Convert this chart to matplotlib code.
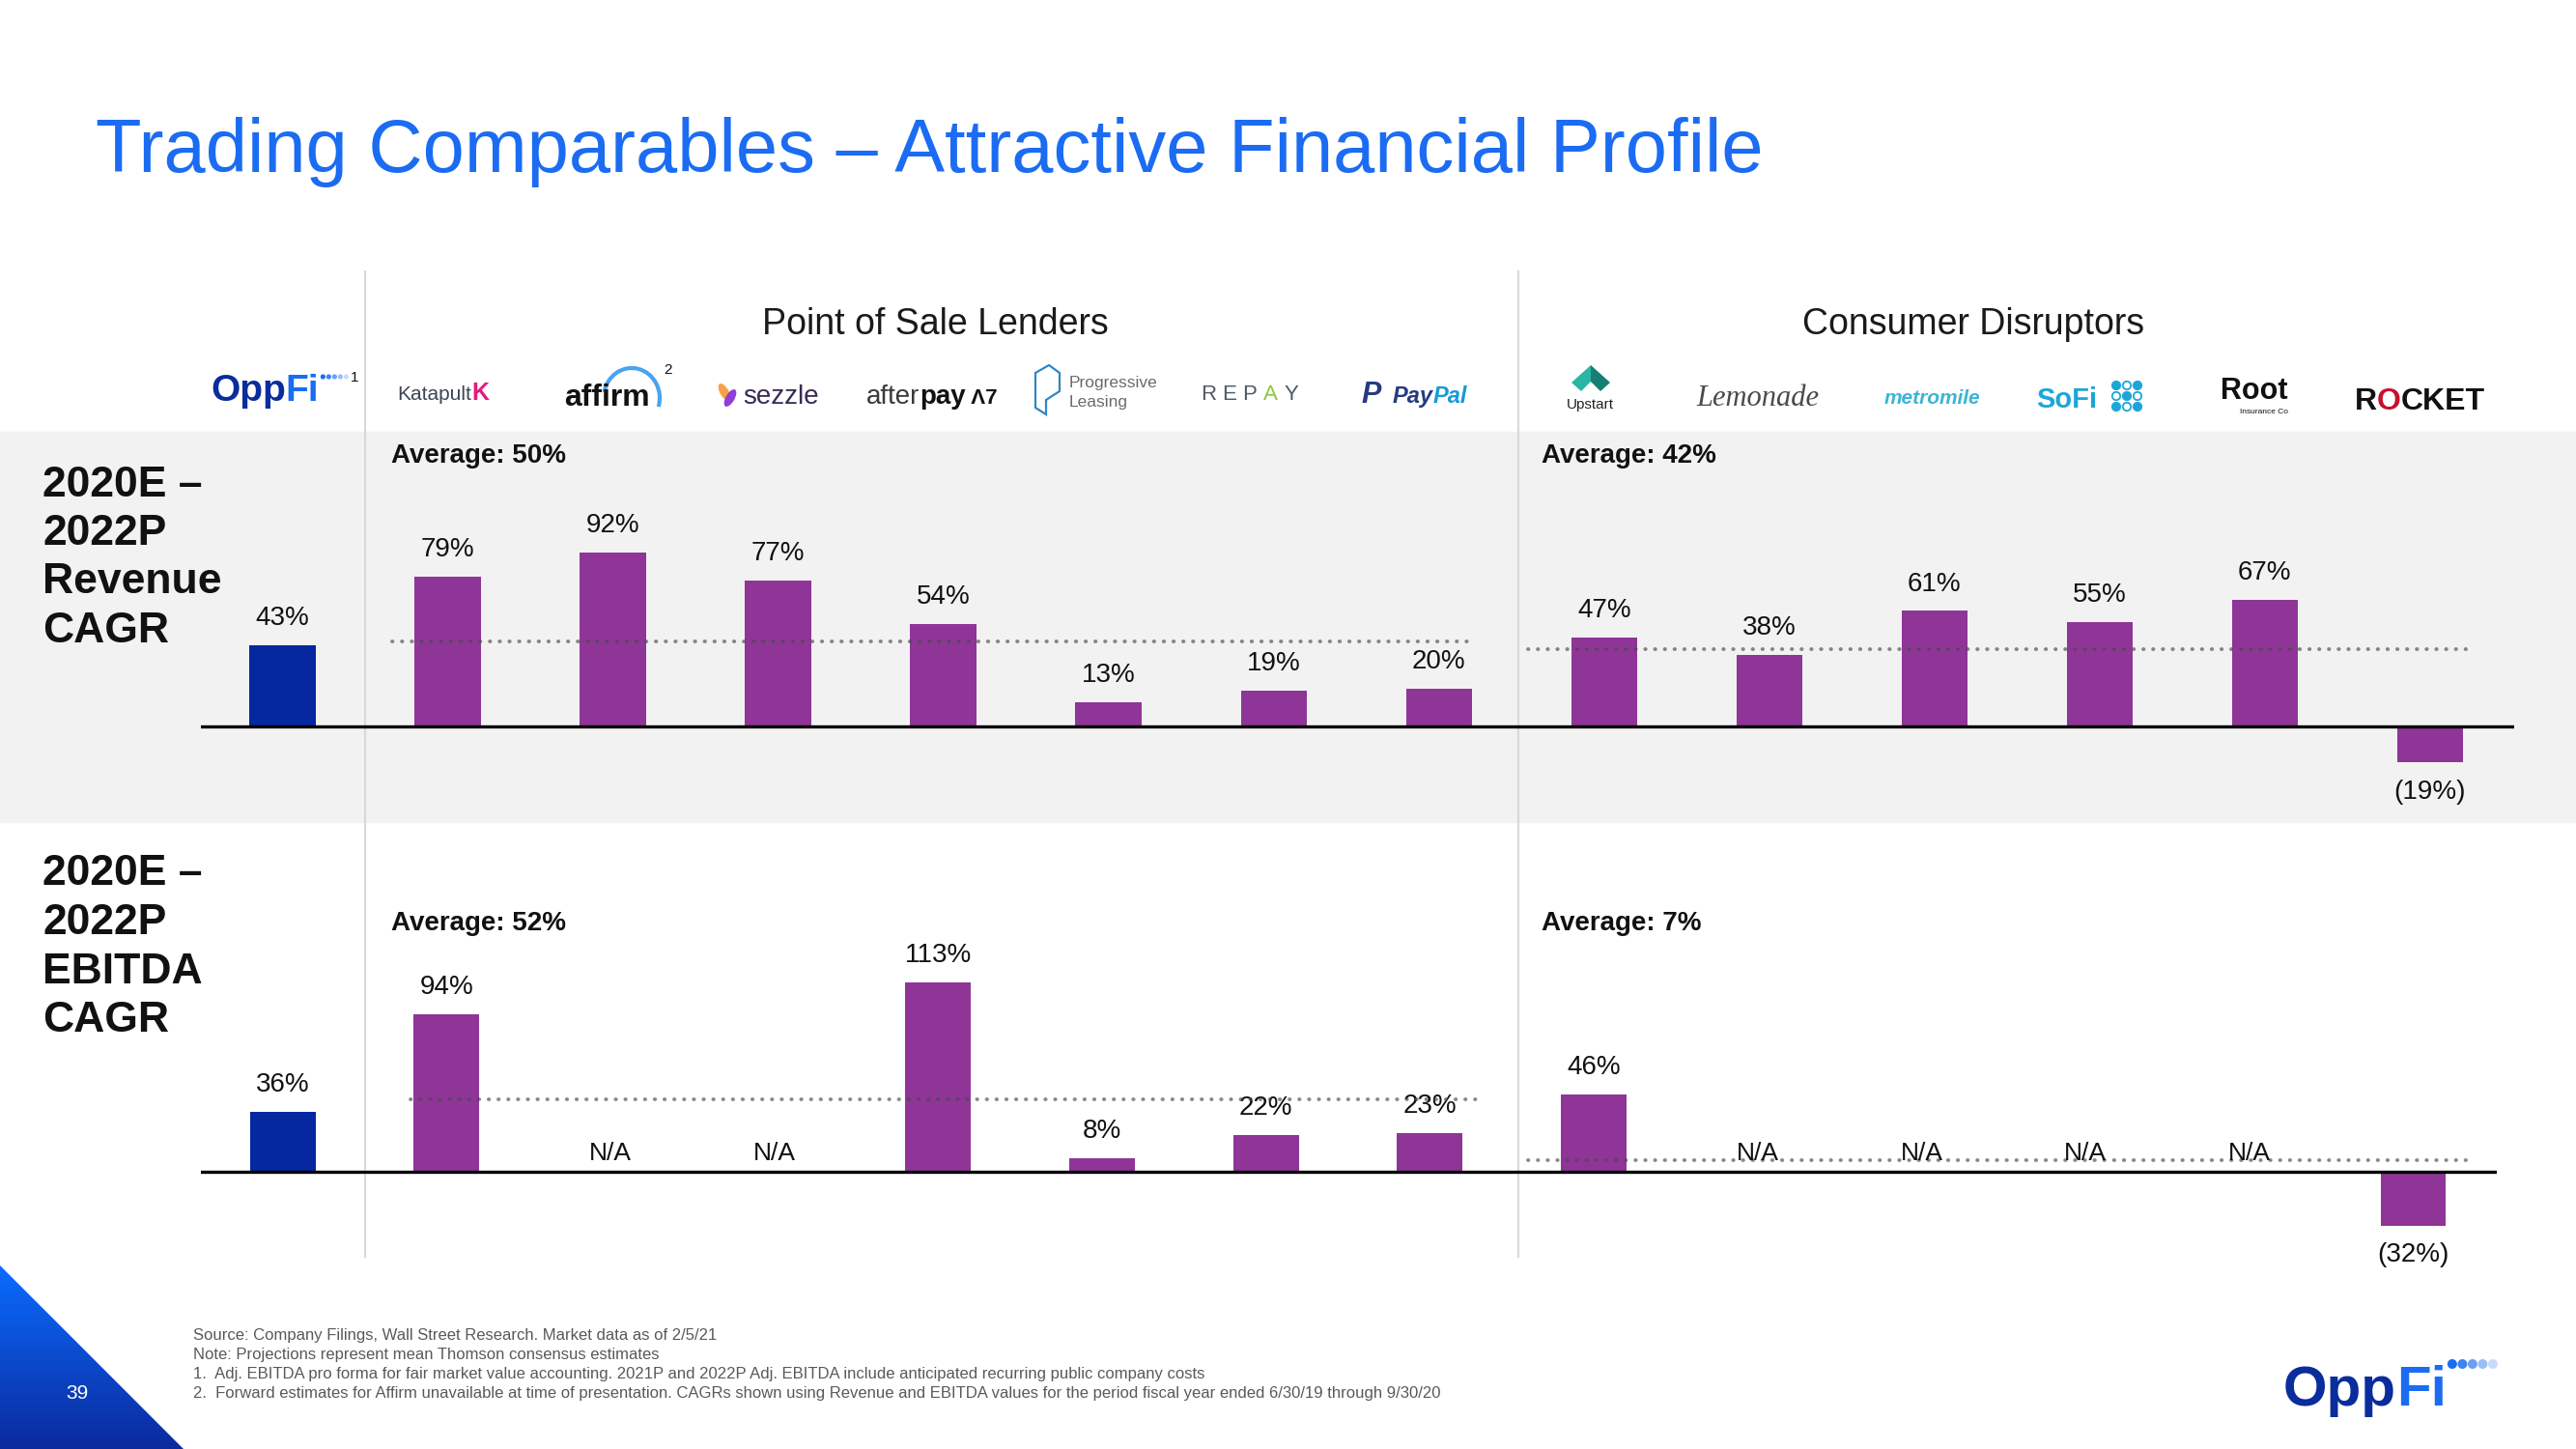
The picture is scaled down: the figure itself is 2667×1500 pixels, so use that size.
import matplotlib
matplotlib.use('Agg')
import numpy as np
import matplotlib.pyplot as plt
from matplotlib.patches import Rectangle, Polygon, Circle, Arc, Ellipse
from matplotlib.colors import LinearSegmentedColormap

plt.rcParams['font.family'] = ['Liberation Sans', 'DejaVu Sans']

W, H = 2667, 1500

# ---- data ----
companies = ['OppFi', 'Katapult', 'Affirm', 'Sezzle', 'Afterpay', 'Progressive Leasing', 'Repay',
             'PayPal', 'Upstart', 'Lemonade', 'Metromile', 'SoFi', 'Root', 'Rocket']
revenue_cagr = [43, 79, 92, 77, 54, 13, 19, 20, 47, 38, 61, 55, 67, -19]
ebitda_cagr = [36, 94, None, None, 113, 8, 22, 23, 46, None, None, None, None, -32]

revenue_avg_text = ['Average: 50%', 'Average: 42%']
ebitda_avg_text = ['Average: 52%', 'Average: 7%']
# level of the dotted average lines as drawn on the slide
revenue_avg_line = [45, 41]
ebitda_avg_line = [43, 7]

group_names = ['Point of Sale Lenders', 'Consumer Disruptors']
row_titles = [['2020E –', '2022P', 'Revenue', 'CAGR'],
              ['2020E –', '2022P', 'EBITDA', 'CAGR']]
title = 'Trading Comparables – Attractive Financial Profile'
footnotes = [
    'Source: Company Filings, Wall Street Research. Market data as of 2/5/21',
    'Note: Projections represent mean Thomson consensus estimates',
    '1.  Adj. EBITDA pro forma for fair market value accounting. 2021P and 2022P Adj. EBITDA include anticipated recurring public company costs',
    '2.  Forward estimates for Affirm unavailable at time of presentation. CAGRs shown using Revenue and EBITDA values for the period fiscal year ended 6/30/19 through 9/30/20',
]
page_no = '39'

NAVY = '#0A2C9C'
BLUE = '#1B6CF2'
PURPLE = '#8E3597'
OPPFI_BAR = '#0527A0'
TXT = '#111111'

fig = plt.figure(figsize=(W / 100, H / 100), dpi=100)
bg = fig.add_axes([0, 0, 1, 1])
bg.set_xlim(0, W)
bg.set_ylim(H, 0)
bg.axis('off')
renderer = fig.canvas.get_renderer()


def rich(x, y, parts, ha='left', size=16, weight='normal', style='normal', family=None):
    # place differently coloured pieces of text side by side on one baseline
    items = []
    for p in parts:
        kw = dict(fontsize=size, fontweight=weight, fontstyle=style, color=p[1])
        if family:
            kw['family'] = family
        if len(p) > 2:
            kw.update(p[2])
        items.append(bg.text(0, y, p[0], ha='left', va='baseline', **kw))
    widths = [t.get_window_extent(renderer).width for t in items]
    start = x - sum(widths) / 2 if ha == 'center' else x
    for t, w in zip(items, widths):
        t.set_x(start)
        start += w
    return start


# grey band behind the revenue row, separators
bg.add_patch(Rectangle((0, 447), W, 404, color='#F2F2F2', zorder=0))
for xv in [378, 1572]:
    bg.plot([xv, xv], [281, 1301], color='#D9D9D9', lw=1.5, zorder=1)

# title
bg.text(99, 157, title, fontsize=56, color=BLUE, va='center', ha='left')

# group headers
for name, xc in zip(group_names, [968, 2043]):
    bg.text(xc, 336, name, fontsize=27, color='#1A1A1A', ha='center', va='center')

# row titles
for lines, y0 in zip(row_titles, [502, 905]):
    for i, s in enumerate(lines):
        bg.text(44, y0 + i * 50.5, s, fontsize=32, fontweight='bold', color=TXT, va='center')

# average labels
for txts, yv in [(revenue_avg_text, 472), (ebitda_avg_text, 956)]:
    for s, xv in zip(txts, [405, 1596]):
        bg.text(xv, yv, s, fontsize=20, fontweight='bold', color=TXT, va='center')

# ---- logos (text approximations) ----
r = rich(218, 415, [('Opp', NAVY), ('Fi', BLUE)], size=28, weight='bold')
for i, c in enumerate(['#1A6DF0', '#3D84F2', '#6A9FF4', '#9BBEF7', '#C9DBFA']):
    bg.add_patch(Circle((r + 4 + i * 6, 390), 2.6, color=c, lw=0))
bg.text(367, 391, '1', fontsize=11, ha='center', va='center', color=TXT)

rich(459, 414, [('Katapult', '#3B4657'), ('K', '#E6197F', {'fontweight': 'bold', 'fontsize': 18})],
     ha='center', size=15)

rich(628, 420, [('affirm', TXT)], ha='center', size=23, weight='bold')
bg.add_patch(Arc((654, 412), 58, 62, theta1=192, theta2=378, color='#4AA3F0', lw=3))
bg.text(691, 383, '2', fontsize=11, ha='center', va='center', color=TXT)

bg.add_patch(Ellipse((750, 406), 9, 20, angle=-30, color='#F5A04A', lw=0))
bg.add_patch(Ellipse((756, 412), 9, 20, angle=30, color='#8E3FD8', lw=0))
rich(769, 418, [('sezzle', '#392A55')], size=20)

rich(965, 418, [('after', '#3A3A3A'), ('pay', TXT, {'fontweight': 'bold'}),
                (' Λ7', TXT, {'fontweight': 'bold', 'fontsize': 16})], ha='center', size=20)

bg.add_patch(Polygon([(1072, 386), (1086, 378), (1097, 386), (1097, 405), (1083, 414),
                      (1083, 429), (1072, 422)], closed=True, fill=False, ec='#2F87C4', lw=1.6))
bg.text(1107, 397, 'Progressive', fontsize=12.5, color='#6B6B6B', va='center')
bg.text(1107, 417, 'Leasing', fontsize=12.5, color='#6B6B6B', va='center')

for i, ch in enumerate('REPAY'):
    bg.text(1251 + i * 21.5, 409, ch, fontsize=16, ha='center', va='center',
            color='#8DC63F' if ch == 'A' else '#4F5B66')

bg.text(1420, 409, 'P', fontsize=22, fontweight='bold', fontstyle='italic', color='#253B80',
        ha='center', va='center')
rich(1442, 417, [('Pay', '#253B80'), ('Pal', '#179BD7')], size=17, weight='bold', style='italic')

bg.add_patch(Polygon([(1647, 378), (1627, 396), (1637, 405), (1647, 395)], color='#2BB5A5', lw=0))
bg.add_patch(Polygon([(1647, 378), (1667, 396), (1657, 405), (1647, 395)], color='#157F74', lw=0))
bg.text(1646, 419, 'Upstart', fontsize=11, ha='center', va='center', color='#222222')

bg.text(1820, 412, 'Lemonade', fontsize=22, family='Liberation Serif', fontstyle='italic',
        color='#4A4A4A', ha='center', va='center')
bg.text(2000, 412, 'metromile', fontsize=15, fontweight='bold', fontstyle='italic',
        color='#3CB4D6', ha='center', va='center')

rich(2108, 422, [('SoFi', '#1CA6D8')], size=21, weight='bold')
for row in range(3):
    for col in range(3):
        filled = (row + col) % 2 == 0
        bg.add_patch(Circle((2191 + col * 11, 399 + row * 11), 4.2, fc='#1CA6D8' if filled else 'none',
                            ec='#1CA6D8', lw=1.3))

bg.text(2334, 405, 'Root', fontsize=22, fontweight='bold', color=TXT, ha='center', va='center')
bg.text(2344, 426, 'Insurance Co', fontsize=6, color=TXT, ha='center', va='center')

rich(2505, 424, [('R', TXT), ('O', '#C8102E'), ('CKET', TXT)], ha='center', size=23, weight='bold')

# ---- bar rows ----
def draw_row(ax, values, avg_lines, avg_spans):
    x = np.arange(len(values))
    for xi, v in zip(x, values):
        if v is None:
            ax.annotate('N/A', (xi, 0), xytext=(0, 14), textcoords='offset points',
                        ha='center', va='center', fontsize=19, color=TXT, zorder=6)
            continue
        ax.bar(xi, v, width=0.4, color=OPPFI_BAR if xi == 0 else PURPLE, zorder=3)
        label = f'{v}%' if v >= 0 else f'({-v}%)'
        ax.annotate(label, (xi, v), xytext=(0, 20 if v >= 0 else -22), textcoords='offset points',
                    ha='center', va='center', fontsize=20, color=TXT)
    ax.axhline(0, color='black', lw=2.4, zorder=5)
    for yv, (x0, x1) in zip(avg_lines, avg_spans):
        ax.plot([x0, x1], [yv, yv], color='#4A4A4A', alpha=0.65, lw=2.8, linestyle=(0, (0.1, 2.5)),
                dash_capstyle='round', zorder=4)
    ax.axis('off')


ax1 = fig.add_axes([208 / W, 1 - 851 / H, (2603 - 208) / W, (851 - 447) / H])
ax1.set_xlim(-0.495, 13.51)
ax1.set_ylim(-50.5, 155.6)
draw_row(ax1, revenue_cagr, revenue_avg_line, [(0.66, 7.22), (7.54, 13.26)])

ax2 = fig.add_axes([208 / W, 1 - 1300 / H, (2585 - 208) / W, (1300 - 900) / H])
ax2.set_xlim(-0.4985, 13.51)
ax2.set_ylim(-50.1, 180.4)
draw_row(ax2, ebitda_cagr, ebitda_avg_line, [(0.78, 7.30), (7.60, 13.36)])

# footnotes
for i, s in enumerate(footnotes):
    bg.text(200, 1383 + i * 19.7, s, fontsize=12, color='#595959', va='center')

# corner triangle with gradient + page number
grad = np.linspace(0, 1, 256).reshape(-1, 1)
cmap = LinearSegmentedColormap.from_list('corner', ['#0A6CFF', '#0B2A9E'])
im = bg.imshow(grad, extent=(0, 190, 1500, 1310), cmap=cmap, aspect='auto', zorder=1)
tri = Polygon([(0, 1310), (0, 1500), (190, 1500)], closed=True, transform=bg.transData)
im.set_clip_path(tri)
bg.set_xlim(0, W)
bg.set_ylim(H, 0)
bg.text(80, 1442, page_no, fontsize=15, color='white', ha='center', va='center', zorder=3)

# OppFi logo bottom right
r = rich(2364, 1455, [('Opp', NAVY), ('Fi', BLUE)], size=42, weight='bold')
for i, c in enumerate(['#1A6DF0', '#3D84F2', '#6A9FF4', '#9BBEF7', '#C9DBFA']):
    bg.add_patch(Circle((r + 6 + i * 10.5, 1412), 5, color=c, lw=0))

fig.savefig('out.png', dpi=100)
